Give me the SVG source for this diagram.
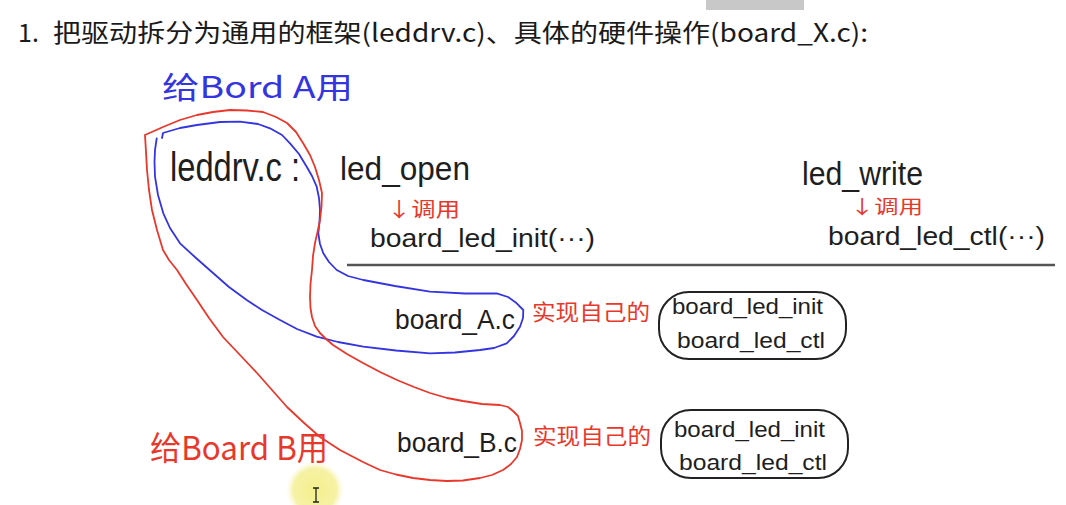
<svg xmlns="http://www.w3.org/2000/svg" width="1066" height="505" viewBox="0 0 1066 505">
<defs>
<style>
.hw{font-family:"Liberation Sans","Noto Sans CJK SC",sans-serif;fill:#1e1e1e}
.red{font-family:"Noto Sans CJK SC",sans-serif;fill:#e8382c}
.blue{font-family:"Noto Sans CJK SC","Liberation Sans",sans-serif;fill:#3434e0}
.title{font-family:"Noto Sans CJK SC","Liberation Sans",sans-serif;fill:#1a1a1a;font-size:25px}
.lasso{fill:none;stroke-width:1.8;stroke-linejoin:round;stroke-linecap:round}
.box{fill:none;stroke:#222;stroke-width:2}
</style>
<radialGradient id="hl" cx="0.5" cy="0.5" r="0.5">
<stop offset="0" stop-color="#f4ef8c"/>
<stop offset="0.75" stop-color="#f6f2a6"/>
<stop offset="1" stop-color="#fbf9d8" stop-opacity="0"/>
</radialGradient>
</defs>
<rect width="1066" height="505" fill="#ffffff"/>
<rect x="706" y="0" width="98" height="10" fill="#c8c8c8"/>

<g id="title">
<text class="title" x="18" y="42">1.</text>
<text class="title" x="53" y="42" textLength="815" lengthAdjust="spacingAndGlyphs">把驱动拆分为通用的框架(leddrv.c)、具体的硬件操作(board_X.c):</text>
</g>

<g id="highlight">
<circle cx="315" cy="490" r="29" fill="url(#hl)"/>
<path d="M313,488 H319 M316,488 V502 M313,502 H319" stroke="#222" stroke-width="1.3" fill="none"/>
</g>

<g id="connectors">
<line x1="347" y1="265" x2="1055" y2="265" stroke="#555" stroke-width="2.5"/>
<path class="lasso" stroke="#3434e0" d="M162,138 L163,133 L180,128 L197,125 L220,122 L240,121.7 L258,124 L270,128.3 L282,135 L290,143.3 L299,154 L306.7,166.7 L312,176 L316.7,186.7 L319,198 L320,210 L319.5,222 L318.3,233.3 L320,244 L323.3,253.3 L329,262 L336.7,270 L348,276 L363.3,280 L395,286 L430,291.7 L465,293.5 L496.7,293.3 L508,297 L516.7,303.3 L523.3,310 L523,318 L520,326.7 L514,336 L506.7,343.3 L494,348 L480,350 L455,352.5 L430,353.3 L396,350.5 L363.3,346.7 L338,342 L316.7,336.7 L297,329 L280,320 L262,310 L246.7,300 L229,287 L213.3,273.3 L196,258 L180,243.3 L170,228 L163.3,213.3 L158,195 L155,176.7 L154.5,162 L155,150 L156.7,138.3"/>
<path class="lasso" stroke="#e8382c" d="M145,135 L163,127 L180,120 L197,115 L213,112 L230,110 L247,110.5 L263,112 L276,117 L287,123 L296,132 L303,143 L310,155 L315,167 L319,180 L322,193 L321.5,207 L320,220 L317.5,232 L315,243 L313,256 L312,270 L310.5,284 L310,297 L310.5,308 L312,317 L315,326 L320,333 L326,339 L333,345 L347,354 L363,363 L380,372 L397,380 L414,387 L430,393 L447,398 L463,401 L482,404 L500,405 L508,407 L513,411 L518,416 L520,423 L522,431 L522,440 L520,449 L517,457 L511,464 L503,470 L492,475 L480,478 L463,480.5 L447,481 L430,480 L413,478 L396,474.5 L380,470 L363,462 L340,450 L320,437 L303,422 L287,407 L272,390 L257,373 L240,355 L223,337 L209,318 L197,300 L186,284 L177,270 L169,260 L163,250 L157,230 L152,210 L149,190 L147,170 L146,152 L145,135"/>
</g>

<g id="label-board-a-use">
<text class="blue" x="162" y="98" font-size="30" textLength="191" lengthAdjust="spacingAndGlyphs">给Bord A用</text>
</g>
<g id="label-board-b-use">
<text class="red" x="150" y="460" font-size="33" textLength="178" lengthAdjust="spacingAndGlyphs">给Board B用</text>
</g>

<g id="leddrv">
<text class="hw" x="170" y="181" font-size="40" textLength="130" lengthAdjust="spacingAndGlyphs">leddrv.c :</text>
</g>

<g id="led-open">
<text class="hw" x="340" y="180" font-size="34" textLength="130" lengthAdjust="spacingAndGlyphs">led_open</text>
<text class="red" x="387" y="217" font-size="20" textLength="73" lengthAdjust="spacingAndGlyphs">↓调用</text>
<text class="hw" x="370" y="247" font-size="25" textLength="225" lengthAdjust="spacingAndGlyphs">board_led_init(···)</text>
</g>

<g id="led-write">
<text class="hw" x="802" y="185" font-size="33" textLength="121" lengthAdjust="spacingAndGlyphs">led_write</text>
<text class="red" x="850" y="214" font-size="19" textLength="73" lengthAdjust="spacingAndGlyphs">↓调用</text>
<text class="hw" x="828" y="245" font-size="25" textLength="217" lengthAdjust="spacingAndGlyphs">board_led_ctl(···)</text>
</g>

<g id="board-a">
<text class="hw" x="395" y="329" font-size="28" textLength="120" lengthAdjust="spacingAndGlyphs">board_A.c</text>
<text class="red" x="532" y="320" font-size="22" textLength="118" lengthAdjust="spacingAndGlyphs">实现自己的</text>
</g>
<g id="board-a-funcs">
<rect class="box" x="659" y="292" width="187" height="67" rx="30" ry="30"/>
<text class="hw" x="672" y="314" font-size="22" textLength="151" lengthAdjust="spacingAndGlyphs">board_led_init</text>
<text class="hw" x="677" y="348" font-size="22" textLength="148" lengthAdjust="spacingAndGlyphs">board_led_ctl</text>
</g>

<g id="board-b">
<text class="hw" x="397" y="452" font-size="28" textLength="120" lengthAdjust="spacingAndGlyphs">board_B.c</text>
<text class="red" x="533" y="444" font-size="22" textLength="118" lengthAdjust="spacingAndGlyphs">实现自己的</text>
</g>
<g id="board-b-funcs">
<rect class="box" x="661" y="410" width="187" height="68" rx="30" ry="30"/>
<text class="hw" x="674" y="437" font-size="22" textLength="151" lengthAdjust="spacingAndGlyphs">board_led_init</text>
<text class="hw" x="679" y="470" font-size="22" textLength="148" lengthAdjust="spacingAndGlyphs">board_led_ctl</text>
</g>
</svg>
